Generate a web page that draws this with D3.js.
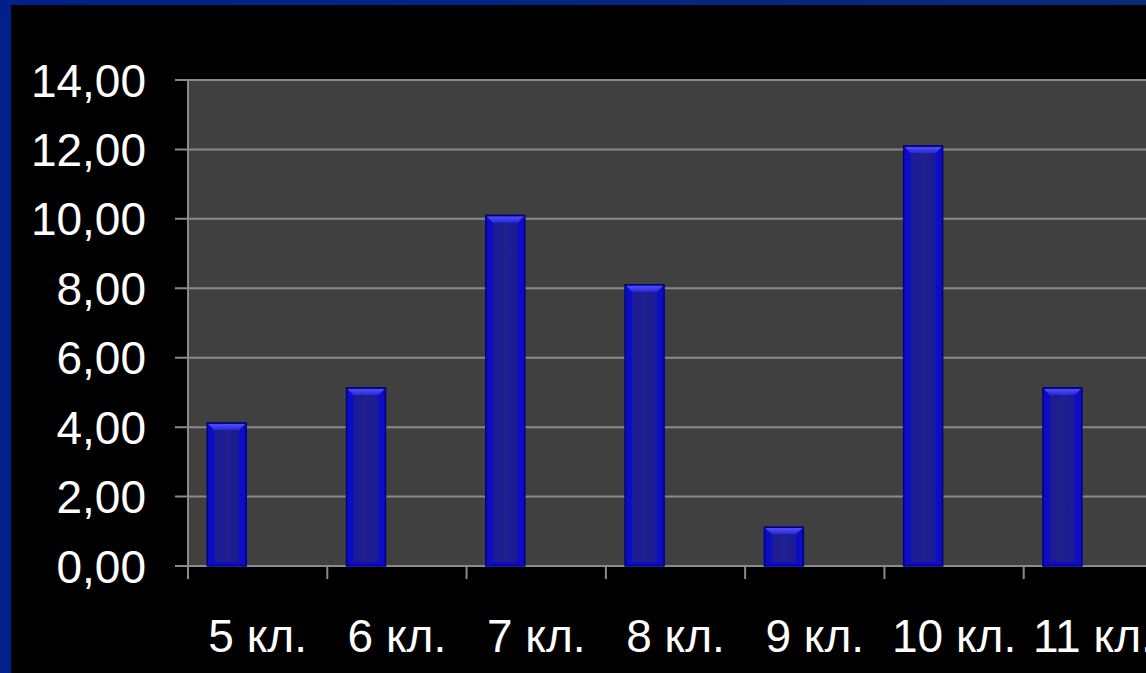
<!DOCTYPE html>
<html><head><meta charset="utf-8">
<script src="https://cdn.jsdelivr.net/npm/d3@7"></script>
<style>html,body{margin:0;padding:0;background:#000;overflow:hidden}</style>
</head><body>
<svg id="c" width="1146" height="673"></svg>
<script>
const categories = ["5 кл.", "6 кл.", "7 кл.", "8 кл.", "9 кл.", "10 кл.", "11 кл."];
const values = [4.12, 5.13, 10.1, 8.1, 1.12, 12.1, 5.13];
const yTicks = [0, 2, 4, 6, 8, 10, 12, 14];
const fmt = d => d.toFixed(2).replace(".", ",");

const svg = d3.select("#c");
const W = 1146, H = 673;
const defs = svg.append("defs");
const bg = defs.append("linearGradient").attr("id","bord").attr("x1",0).attr("y1",0).attr("x2",1).attr("y2",0);
bg.append("stop").attr("offset",0).attr("stop-color","#00208a");
bg.append("stop").attr("offset",1).attr("stop-color","#0a2a7a");
svg.append("rect").attr("width",W).attr("height",H).attr("fill","url(#bord)");
svg.append("rect").attr("x",11).attr("y",5).attr("width",W-11).attr("height",H-5).attr("fill","#000");

const m = {left:188, top:80, bottom:566};
const plotW = 975;
const x = d3.scaleBand().domain(categories).range([m.left, m.left+plotW]).paddingInner(0).paddingOuter(0);
const y = d3.scaleLinear().domain([0,14]).range([m.bottom, m.top]);

const g = svg.append("g");
g.append("rect").attr("x",m.left).attr("y",m.top).attr("width",plotW).attr("height",m.bottom-m.top).attr("fill","#404040");

g.selectAll(".grid").data(yTicks).join("line")
  .attr("x1",m.left-13).attr("x2",m.left+plotW)
  .attr("y1",d=>y(d)).attr("y2",d=>y(d))
  .attr("stroke","#8a8a8a").attr("stroke-width",2);

g.append("line").attr("x1",m.left).attr("x2",m.left).attr("y1",m.top).attr("y2",m.bottom+13)
  .attr("stroke","#8a8a8a").attr("stroke-width",2);

const bounds = categories.map(c=>x(c));
g.selectAll(".xt").data(bounds).join("line")
  .attr("x1",d=>d).attr("x2",d=>d).attr("y1",m.bottom).attr("y2",m.bottom+13)
  .attr("stroke","#8a8a8a").attr("stroke-width",2);

g.selectAll(".yl").data(yTicks).join("text")
  .attr("x",146).attr("y",d=>y(d)).attr("dy","0.36em")
  .attr("text-anchor","end").attr("fill","#fff")
  .attr("font-family","Liberation Sans, Arial, sans-serif").attr("font-size",46)
  .text(fmt);

g.selectAll(".xl").data(categories).join("text")
  .attr("x",d=>x(d)+x.bandwidth()/2).attr("y",652)
  .attr("text-anchor","middle").attr("fill","#fff")
  .attr("font-family","Liberation Sans, Arial, sans-serif").attr("font-size",46)
  .text(d=>d);

// bars
const inner = defs.append("linearGradient").attr("id","inner").attr("x1",0).attr("y1",0).attr("x2",1).attr("y2",0);
inner.append("stop").attr("offset",0).attr("stop-color","#1a1a96");
inner.append("stop").attr("offset",0.5).attr("stop-color","#20208e");
inner.append("stop").attr("offset",1).attr("stop-color","#1a1a96");
const topG = defs.append("linearGradient").attr("id","topg").attr("x1",0).attr("y1",0).attr("x2",0).attr("y2",1);
topG.append("stop").attr("offset",0).attr("stop-color","#5050f4");
topG.append("stop").attr("offset",1).attr("stop-color","#2a2ad8");
const bw = x.bandwidth()*0.28, off = x.bandwidth()*0.138, bev = 7;
const bars = g.selectAll(".bar").data(values).join("g");
bars.append("rect")
  .attr("x",(d,i)=>x(categories[i])+off).attr("y",d=>y(d))
  .attr("width",bw).attr("height",d=>y(0)-y(d))
  .attr("fill","#0c0cc4").attr("stroke","#000080").attr("stroke-width",1.5);
bars.append("rect")
  .attr("x",(d,i)=>x(categories[i])+off+bev).attr("y",d=>y(d)+bev)
  .attr("width",bw-2*bev).attr("height",d=>Math.max(0,y(0)-y(d)-bev-4))
  .attr("fill","url(#inner)");
bars.append("polygon")
  .attr("points",(d,i)=>{const x0=x(categories[i])+off, y0=y(d);
    return [[x0+1,y0+1],[x0+bw-1,y0+1],[x0+bw-bev,y0+bev],[x0+bev,y0+bev]].map(p=>p.join(",")).join(" ");})
  .attr("fill","url(#topg)");
</script>
</body></html>
